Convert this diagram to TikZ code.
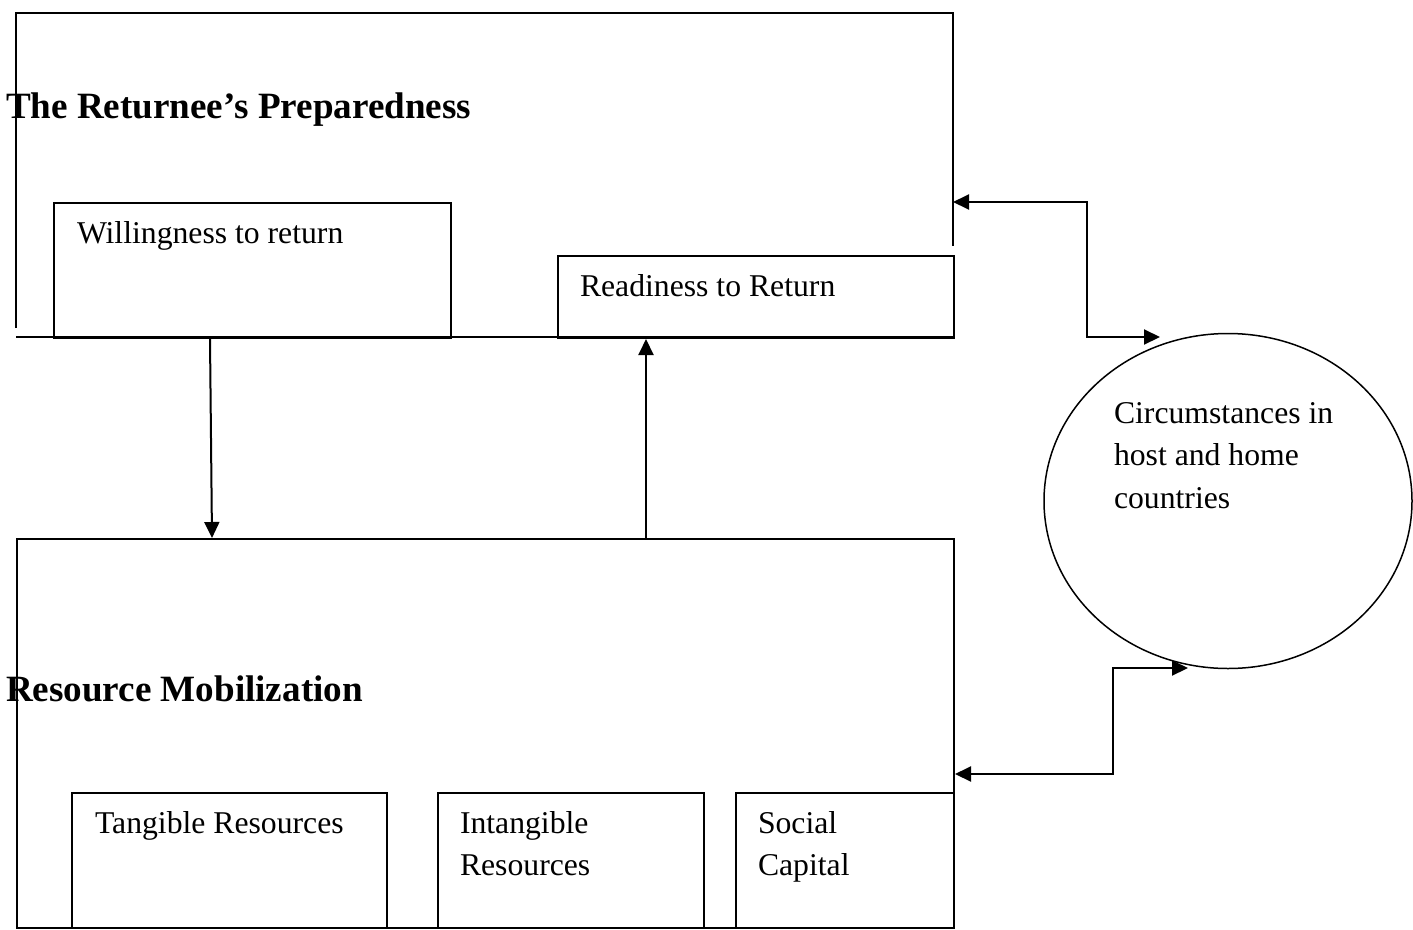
\documentclass[tikz,border=0pt]{standalone}
\usepackage{fontspec}
\setmainfont{Liberation Serif}
\usepackage{tikz}
\usetikzlibrary{positioning,shapes.geometric,arrows.meta}

\tikzset{
	box/.style={draw, rectangle, anchor=north west, inner sep=0pt},
	txt/.style={anchor=base west, inner sep=0pt, align=left, font=\fontsize{31.7}{42.5}\selectfont},
	head/.style={anchor=base west, inner sep=0pt, font=\fontsize{37.1}{44}\selectfont\bfseries},
}

\begin{document}
\begin{tikzpicture}[x=1pt,y=-1pt,line width=2pt,>={Triangle[length=16pt,width=15pt]}]
			\useasboundingbox (0,0) rectangle (1413,929);
			% preparedness frame, left open at the corners
			\coordinate (prepSW) at (16,328);
			\coordinate (prepNW) at (16,13);
			\coordinate (prepNE) at (953,13);
			\coordinate (prepE) at (953,246);
			\draw (prepSW) -- (prepNW) -- (prepNE) -- (prepE);
			\draw (16,337) -- (953,337);
			\node[head] (prepT) at (5,118) {The Returnee’s Preparedness};
			\node[box, minimum width=397pt, minimum height=135pt] (will) at (53,202) {};
			\node[txt] (willT) at (76,243) {Willingness to return};
			\node[box, minimum width=396pt, minimum height=82pt] (ready) at (557,255) {};
			\node[txt] (readyT) at (579,296) {Readiness to Return};
			% resource mobilization frame
			\node[box, minimum width=937pt, minimum height=389pt] (mobil) at (16,538) {};
			\node[head] (mobilT) at (5,701) {Resource Mobilization};
			\node[box, minimum width=315pt, minimum height=135pt] (tang) at (71,792) {};
			\node[txt] (tangT) at (94,833) {Tangible Resources};
			\node[box, minimum width=266pt, minimum height=135pt] (intang) at (437,792) {};
			\node[txt] (intangT) at (459,875.5) {Intangible\\Resources};
			\node[box, minimum width=218pt, minimum height=135pt] (social) at (735,792) {};
			\node[txt] (socialT) at (757,875.5) {Social\\Capital};
			% circumstances
			\node[draw, ellipse, line width=1.5pt, minimum width=368pt, minimum height=335pt] (circ) at (1228,501) {};
			\node[txt] (circT) at (1113,508) {Circumstances in\\host and home\\countries};
			% links
			\draw[->] ([xshift=157pt]will.south west) -- ([xshift=196pt]mobil.north west);
			\draw[->] ([xshift=630pt]mobil.north west) -- ([xshift=89pt]ready.south west);
			\coordinate (topEnd) at (1160,337);
			\coordinate (botEnd) at (1188,668);
			\draw[<->] (prepNE |- 0,202) -| (1087,337) -- (topEnd);
			\draw[<->] (mobil.east |- 0,774) -| (1113,668) -- (botEnd);
		\end{tikzpicture}
\end{document}
